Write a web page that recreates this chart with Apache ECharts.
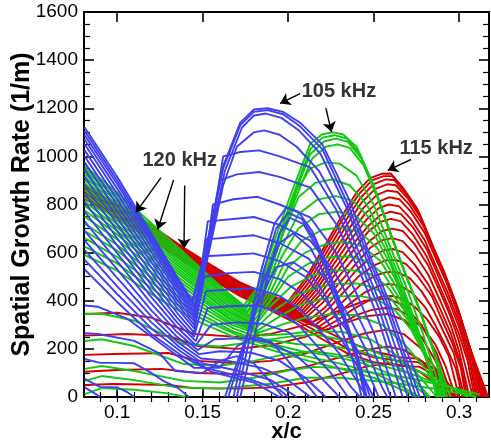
<!DOCTYPE html>
<html><head><meta charset="utf-8">
<script src="https://cdn.jsdelivr.net/npm/echarts@6/dist/echarts.min.js"></script>
<style>html,body{margin:0;padding:0;background:#fff}#c{width:491px;height:444px}</style>
</head><body><div id="c"></div>
<script>
// ---------------- DATA ----------------
const xMajorTicks = [0.1, 0.15, 0.2, 0.25, 0.3];
const xMinorTicks = [0.09,0.1,0.11,0.12,0.13,0.14,0.15,0.16,0.17,0.18,0.19,0.2,0.21,0.22,0.23,0.24,0.25,0.26,0.27,0.28,0.29,0.3,0.31];

// red family: narrow band from the left, valley ~0.2-0.22, peak ~0.255 (115 kHz)
const redMain = [
 [[0.081,880],[0.1,800],[0.12,712],[0.139,620],[0.155,548],[0.172,476],[0.188,425],[0.2,398],[0.21,490],[0.22,610],[0.23,735],[0.24,850],[0.248,910],[0.255,928],[0.26,929],[0.267,871],[0.275,788],[0.2826,662],[0.288,567],[0.296,412],[0.306,210],[0.317,0]],
 [[0.081,877],[0.1,797],[0.12,709],[0.139,617],[0.155,545],[0.172,473],[0.188,422],[0.201,393],[0.211,485],[0.221,605],[0.231,728],[0.241,840],[0.249,900],[0.256,918],[0.261,918],[0.268,860],[0.276,775],[0.283,650],[0.289,555],[0.297,400],[0.306,200],[0.316,0]],
 [[0.081,874],[0.1,794],[0.12,706],[0.139,614],[0.155,542],[0.172,470],[0.188,419],[0.202,386],[0.212,475],[0.222,595],[0.232,715],[0.242,825],[0.25,885],[0.257,904],[0.262,902],[0.269,845],[0.277,760],[0.284,636],[0.29,540],[0.298,390],[0.307,190],[0.315,0]],
 [[0.081,871],[0.1,791],[0.12,703],[0.139,611],[0.155,539],[0.172,467],[0.188,416],[0.203,380],[0.213,465],[0.223,585],[0.233,700],[0.243,808],[0.251,865],[0.258,884],[0.263,880],[0.27,825],[0.278,740],[0.285,620],[0.291,525],[0.299,375],[0.307,190],[0.314,0]],
 [[0.081,868],[0.1,788],[0.12,700],[0.139,608],[0.155,536],[0.172,464],[0.188,413],[0.204,373],[0.214,455],[0.224,570],[0.234,682],[0.244,786],[0.252,840],[0.258,858],[0.264,852],[0.271,798],[0.279,712],[0.286,596],[0.292,500],[0.3,352],[0.307,190],[0.313,0]],
 [[0.081,865],[0.1,785],[0.12,697],[0.139,605],[0.155,533],[0.172,461],[0.188,410],[0.205,366],[0.215,448],[0.225,558],[0.235,665],[0.245,762],[0.253,812],[0.259,830],[0.265,822],[0.272,768],[0.28,680],[0.287,565],[0.293,470],[0.3,340],[0.307,170],[0.312,0]],
 [[0.081,862],[0.1,782],[0.12,694],[0.139,602],[0.155,530],[0.172,458],[0.188,407],[0.206,358],[0.216,440],[0.226,545],[0.236,648],[0.246,738],[0.253,785],[0.259,800],[0.265,792],[0.272,738],[0.28,650],[0.287,535],[0.293,440],[0.3,310],[0.306,170],[0.311,0]],
 [[0.081,859],[0.1,779],[0.12,691],[0.139,599],[0.155,527],[0.172,455],[0.188,404],[0.207,350],[0.217,430],[0.227,530],[0.237,628],[0.247,712],[0.254,756],[0.26,770],[0.266,760],[0.273,705],[0.281,615],[0.288,500],[0.294,400],[0.3,290],[0.306,150],[0.31,0]],
 [[0.081,856],[0.1,776],[0.12,688],[0.139,596],[0.155,524],[0.172,452],[0.188,401],[0.208,343],[0.218,420],[0.228,515],[0.238,608],[0.247,688],[0.254,728],[0.26,740],[0.266,730],[0.273,675],[0.281,585],[0.288,470],[0.294,370],[0.3,260],[0.305,150],[0.309,0]],
 [[0.081,853],[0.1,773],[0.12,685],[0.139,593],[0.155,521],[0.172,449],[0.188,398],[0.209,336],[0.219,405],[0.229,495],[0.239,582],[0.248,650],[0.255,690],[0.261,700],[0.267,690],[0.274,635],[0.282,545],[0.289,435],[0.295,335],[0.3,230],[0.304,120],[0.308,0]],
 [[0.081,850],[0.1,770],[0.12,682],[0.139,590],[0.155,518],[0.172,446],[0.188,395],[0.21,328],[0.22,390],[0.23,474],[0.24,556],[0.248,620],[0.255,652],[0.261,660],[0.267,648],[0.274,595],[0.282,508],[0.289,400],[0.295,300],[0.3,190],[0.306,0]],
 [[0.081,847],[0.1,767],[0.12,679],[0.139,587],[0.155,515],[0.172,443],[0.188,392],[0.212,318],[0.222,375],[0.231,452],[0.24,528],[0.249,584],[0.256,610],[0.261,615],[0.267,602],[0.274,550],[0.282,468],[0.289,365],[0.295,268],[0.3,160],[0.305,0]],
 [[0.081,844],[0.1,764],[0.12,676],[0.139,584],[0.155,512],[0.172,440],[0.188,389],[0.214,308],[0.223,362],[0.232,432],[0.241,500],[0.25,546],[0.257,568],[0.263,570],[0.269,552],[0.276,500],[0.284,420],[0.29,320],[0.296,225],[0.301,120],[0.304,0]],
 [[0.081,841],[0.1,761],[0.12,673],[0.139,581],[0.155,509],[0.172,437],[0.188,386],[0.216,300],[0.225,348],[0.234,410],[0.243,470],[0.251,505],[0.258,520],[0.264,518],[0.271,495],[0.278,440],[0.285,360],[0.291,270],[0.297,180],[0.303,0]],
 [[0.081,838],[0.1,758],[0.12,670],[0.139,578],[0.155,506],[0.172,434],[0.188,383],[0.218,292],[0.227,335],[0.236,388],[0.245,435],[0.253,462],[0.259,470],[0.266,462],[0.273,430],[0.28,375],[0.286,300],[0.292,215],[0.298,120],[0.302,0]],
 [[0.081,835],[0.1,755],[0.12,667],[0.139,575],[0.155,503],[0.172,431],[0.188,380],[0.22,284],[0.229,320],[0.238,365],[0.247,400],[0.255,418],[0.261,420],[0.267,408],[0.274,375],[0.281,325],[0.288,255],[0.294,170],[0.3,0]],
 [[0.081,832],[0.1,752],[0.12,664],[0.139,572],[0.155,500],[0.172,428],[0.188,377],[0.222,276],[0.231,305],[0.24,340],[0.249,362],[0.257,370],[0.264,365],[0.271,335],[0.279,285],[0.286,220],[0.292,130],[0.298,0]],
 [[0.081,829],[0.1,749],[0.12,661],[0.139,569],[0.155,497],[0.172,425],[0.188,374],[0.205,330],[0.22,280],[0.235,230],[0.25,190],[0.265,165],[0.275,160],[0.283,130],[0.292,70],[0.3,0]],
 [[0.081,826],[0.1,746],[0.12,658],[0.139,566],[0.155,494],[0.172,422],[0.188,370],[0.205,318],[0.22,260],[0.235,200],[0.25,165],[0.265,150],[0.276,145],[0.286,100],[0.298,0]],
 [[0.081,823],[0.1,743],[0.12,655],[0.139,563],[0.155,491],[0.172,419],[0.188,366],[0.205,305],[0.22,240],[0.235,180],[0.25,145],[0.265,130],[0.277,125],[0.288,80],[0.297,0]]
];
const redLow = [
 [[0.081,345],[0.1,350],[0.12,330],[0.145,262],[0.17,250],[0.19,262],[0.21,300],[0.23,360],[0.245,400],[0.258,410],[0.268,380],[0.278,300],[0.287,180],[0.296,0]],
 [[0.081,255],[0.106,262],[0.13,254],[0.147,212],[0.17,200],[0.19,215],[0.21,250],[0.23,300],[0.245,335],[0.258,345],[0.268,320],[0.278,250],[0.287,140],[0.294,0]],
 [[0.081,175],[0.098,179],[0.13,183],[0.147,150],[0.17,140],[0.19,150],[0.21,180],[0.23,230],[0.245,265],[0.258,280],[0.268,260],[0.278,200],[0.287,110],[0.293,0]],
 [[0.081,105],[0.1,112],[0.126,117],[0.147,100],[0.17,95],[0.19,100],[0.21,125],[0.23,165],[0.245,195],[0.258,210],[0.268,195],[0.278,150],[0.287,80],[0.292,0]],
 [[0.081,50],[0.098,54],[0.13,50],[0.145,37],[0.17,35],[0.19,40],[0.21,60],[0.23,95],[0.245,125],[0.258,140],[0.268,130],[0.278,100],[0.287,50],[0.291,0]]
];

// green family: valley ~0.175, peak ~0.226 (105 kHz)
const greenMain = [
 [[0.081,960],[0.1,850],[0.124,696],[0.145,560],[0.162,450],[0.174,380],[0.182,454],[0.192,650],[0.202,850],[0.213,1054],[0.22,1092],[0.226,1100],[0.232,1092],[0.24,1040],[0.25,880],[0.259,692],[0.267,540],[0.275,400],[0.285,200],[0.295,0]],
 [[0.081,950],[0.1,838],[0.124,684],[0.145,550],[0.162,442],[0.175,372],[0.183,450],[0.193,640],[0.203,840],[0.213,1030],[0.22,1078],[0.227,1088],[0.234,1075],[0.242,1010],[0.251,860],[0.26,676],[0.268,520],[0.276,380],[0.285,190],[0.293,0]],
 [[0.081,940],[0.1,825],[0.124,672],[0.145,540],[0.162,433],[0.175,364],[0.183,440],[0.193,630],[0.203,830],[0.213,1010],[0.221,1062],[0.228,1074],[0.235,1060],[0.243,990],[0.252,840],[0.261,660],[0.269,505],[0.277,360],[0.286,170],[0.292,0]],
 [[0.081,928],[0.1,812],[0.124,660],[0.145,530],[0.163,422],[0.176,356],[0.184,430],[0.194,620],[0.204,820],[0.214,990],[0.222,1040],[0.229,1050],[0.236,1035],[0.244,965],[0.253,815],[0.262,640],[0.27,485],[0.278,340],[0.286,170],[0.291,0]],
 [[0.081,915],[0.1,798],[0.124,648],[0.145,520],[0.163,412],[0.176,348],[0.185,440],[0.195,640],[0.205,860],[0.213,950],[0.222,975],[0.23,970],[0.24,920],[0.25,800],[0.26,620],[0.27,440],[0.279,260],[0.286,100],[0.29,0]],
 [[0.081,902],[0.1,785],[0.124,636],[0.145,510],[0.163,402],[0.177,340],[0.186,450],[0.196,660],[0.206,830],[0.216,890],[0.226,905],[0.236,880],[0.246,800],[0.256,660],[0.266,480],[0.275,300],[0.283,130],[0.288,0]],
 [[0.081,888],[0.1,772],[0.124,624],[0.145,500],[0.163,392],[0.177,332],[0.186,430],[0.196,620],[0.206,760],[0.217,820],[0.228,835],[0.238,815],[0.248,740],[0.258,600],[0.268,420],[0.277,240],[0.284,90],[0.287,0]],
 [[0.081,875],[0.1,758],[0.124,612],[0.145,490],[0.164,382],[0.178,324],[0.187,420],[0.196,580],[0.206,700],[0.218,760],[0.229,770],[0.24,750],[0.25,680],[0.26,550],[0.27,380],[0.278,220],[0.285,60],[0.287,0]],
 [[0.081,860],[0.1,745],[0.124,600],[0.145,480],[0.164,372],[0.178,316],[0.188,410],[0.198,560],[0.208,650],[0.22,695],[0.231,705],[0.242,685],[0.252,620],[0.262,500],[0.272,340],[0.28,190],[0.286,40],[0.288,0]],
 [[0.081,845],[0.1,732],[0.124,588],[0.145,470],[0.164,362],[0.179,308],[0.189,400],[0.2,540],[0.21,600],[0.222,635],[0.233,645],[0.244,625],[0.254,565],[0.264,450],[0.273,310],[0.281,160],[0.286,40],[0.288,0]],
 [[0.081,830],[0.1,718],[0.124,576],[0.145,460],[0.165,352],[0.18,300],[0.19,400],[0.2,500],[0.212,555],[0.224,580],[0.235,585],[0.246,565],[0.256,510],[0.266,400],[0.275,270],[0.283,120],[0.288,0]],
 [[0.081,812],[0.1,704],[0.124,562],[0.145,448],[0.165,342],[0.18,292],[0.19,380],[0.202,460],[0.214,505],[0.226,525],[0.237,528],[0.248,510],[0.258,460],[0.268,360],[0.277,230],[0.284,100],[0.288,0]],
 [[0.081,795],[0.1,690],[0.124,548],[0.145,436],[0.165,332],[0.181,284],[0.192,360],[0.204,420],[0.216,455],[0.228,470],[0.24,472],[0.25,455],[0.26,410],[0.27,320],[0.279,200],[0.286,60],[0.289,0]],
 [[0.081,775],[0.1,675],[0.124,534],[0.145,424],[0.166,322],[0.182,276],[0.194,330],[0.206,380],[0.218,405],[0.23,418],[0.242,420],[0.252,405],[0.262,365],[0.272,280],[0.28,170],[0.287,40],[0.289,0]],
 [[0.081,750],[0.1,655],[0.124,515],[0.145,410],[0.166,312],[0.183,268],[0.196,300],[0.21,330],[0.225,345],[0.24,340],[0.255,300],[0.268,220],[0.28,120],[0.29,0]],
 [[0.081,720],[0.1,632],[0.124,495],[0.145,392],[0.167,300],[0.185,255],[0.2,262],[0.215,275],[0.232,270],[0.248,240],[0.262,180],[0.275,100],[0.287,0]],
 [[0.081,690],[0.1,608],[0.124,475],[0.145,375],[0.168,285],[0.186,240],[0.205,220],[0.222,215],[0.24,195],[0.255,160],[0.27,100],[0.283,0]],
 [[0.081,660],[0.1,582],[0.124,455],[0.145,358],[0.168,272],[0.188,225],[0.208,190],[0.226,170],[0.244,140],[0.26,95],[0.275,40],[0.282,0]],
 [[0.081,625],[0.1,555],[0.124,432],[0.145,340],[0.17,258],[0.19,210],[0.21,170],[0.23,140],[0.25,100],[0.265,50],[0.277,0]],
 [[0.081,590],[0.1,525],[0.124,410],[0.145,322],[0.17,244],[0.19,196],[0.212,150],[0.232,115],[0.25,80],[0.27,20],[0.275,0]]
];
const greenLow = [
 [[0.081,345],[0.092,345],[0.11,317],[0.139,220],[0.16,210],[0.18,230],[0.2,250],[0.215,260],[0.23,240],[0.25,190],[0.27,130],[0.29,60],[0.305,0]],
 [[0.081,233],[0.091,240],[0.11,212],[0.139,137],[0.16,130],[0.18,150],[0.2,180],[0.215,190],[0.23,175],[0.25,140],[0.27,100],[0.29,50],[0.31,0]],
 [[0.081,117],[0.091,129],[0.11,108],[0.139,67],[0.16,60],[0.18,80],[0.2,110],[0.215,125],[0.23,120],[0.25,100],[0.27,80],[0.29,50],[0.312,10]],
 [[0.081,67],[0.091,87],[0.11,70],[0.135,40],[0.16,35],[0.19,55],[0.21,80],[0.23,80],[0.26,60],[0.29,30],[0.31,0]],
 [[0.081,12],[0.091,37],[0.11,30],[0.13,15],[0.14,0]]
];

// blue family: valley ~0.145, peak ~0.187 (105 kHz), second hump ~0.2
const blueMain = [
 [[0.081,1120],[0.1,915],[0.12,680],[0.135,500],[0.144,400],[0.152,620],[0.162,960],[0.172,1140],[0.18,1195],[0.188,1200],[0.197,1185],[0.207,1140],[0.22,1050],[0.236,816],[0.249,566],[0.259,400],[0.27,180],[0.28,0]],
 [[0.081,1105],[0.1,900],[0.12,668],[0.135,490],[0.144,392],[0.152,610],[0.162,950],[0.172,1130],[0.18,1185],[0.188,1192],[0.197,1175],[0.207,1125],[0.22,1030],[0.235,800],[0.248,560],[0.258,390],[0.268,180],[0.277,0]],
 [[0.081,1088],[0.1,885],[0.12,655],[0.135,478],[0.145,380],[0.153,610],[0.163,940],[0.173,1120],[0.18,1170],[0.187,1178],[0.196,1160],[0.206,1110],[0.219,1010],[0.234,790],[0.247,550],[0.257,380],[0.267,170],[0.275,0]],
 [[0.081,1070],[0.1,866],[0.12,640],[0.135,465],[0.145,368],[0.153,580],[0.162,880],[0.17,1040],[0.18,1100],[0.186,1108],[0.195,1090],[0.205,1040],[0.218,940],[0.232,760],[0.245,540],[0.255,370],[0.265,160],[0.273,0]],
 [[0.081,1050],[0.1,845],[0.12,622],[0.135,452],[0.145,355],[0.153,600],[0.162,1000],[0.172,1018],[0.183,1025],[0.195,1000],[0.213,954],[0.228,780],[0.242,560],[0.253,370],[0.262,170],[0.27,0]],
 [[0.081,1025],[0.1,822],[0.12,602],[0.135,438],[0.145,342],[0.152,560],[0.16,900],[0.17,925],[0.183,935],[0.195,915],[0.213,870],[0.228,720],[0.242,520],[0.252,340],[0.26,160],[0.267,0]],
 [[0.081,1000],[0.1,798],[0.12,580],[0.135,420],[0.145,330],[0.151,520],[0.156,800],[0.168,822],[0.182,832],[0.195,800],[0.213,746],[0.228,600],[0.24,430],[0.25,270],[0.258,110],[0.263,0]],
 [[0.081,975],[0.1,772],[0.12,560],[0.135,405],[0.145,315],[0.153,730],[0.168,740],[0.18,748],[0.195,715],[0.213,650],[0.227,520],[0.238,380],[0.248,230],[0.256,80],[0.26,0]],
 [[0.081,945],[0.1,745],[0.12,538],[0.135,388],[0.145,300],[0.152,655],[0.168,665],[0.18,672],[0.195,640],[0.212,575],[0.225,460],[0.236,330],[0.246,190],[0.255,40],[0.258,0]],
 [[0.081,915],[0.1,718],[0.12,515],[0.135,370],[0.145,285],[0.151,585],[0.165,590],[0.18,597],[0.195,565],[0.21,500],[0.222,400],[0.234,280],[0.244,150],[0.253,0]],
 [[0.081,880],[0.1,690],[0.12,490],[0.135,350],[0.145,268],[0.151,500],[0.165,515],[0.18,520],[0.195,490],[0.208,430],[0.22,340],[0.232,230],[0.242,110],[0.25,0]],
 [[0.081,845],[0.1,660],[0.12,465],[0.135,330],[0.145,250],[0.152,440],[0.168,448],[0.18,452],[0.195,420],[0.207,365],[0.218,280],[0.23,180],[0.24,70],[0.246,0]],
 [[0.081,810],[0.1,630],[0.12,440],[0.135,310],[0.146,232],[0.153,370],[0.168,378],[0.182,380],[0.196,350],[0.206,300],[0.216,220],[0.228,130],[0.237,40],[0.242,0]],
 [[0.081,770],[0.1,598],[0.12,415],[0.135,290],[0.146,215],[0.155,300],[0.17,310],[0.185,305],[0.2,270],[0.212,200],[0.225,100],[0.235,0]],
 [[0.081,730],[0.1,565],[0.12,388],[0.135,270],[0.147,195],[0.157,240],[0.175,245],[0.19,225],[0.205,170],[0.218,90],[0.23,0]],
 [[0.081,690],[0.1,530],[0.12,360],[0.135,250],[0.148,178],[0.16,190],[0.178,185],[0.195,150],[0.21,80],[0.222,0]],
 [[0.081,650],[0.1,495],[0.12,335],[0.135,230],[0.149,160],[0.165,150],[0.185,120],[0.2,70],[0.213,0]],
 [[0.081,610],[0.1,460],[0.12,310],[0.136,210],[0.15,140],[0.17,110],[0.19,70],[0.205,0]],
 [[0.081,570],[0.1,428],[0.12,285],[0.137,190],[0.152,120],[0.175,80],[0.195,30],[0.2,0]],
 [[0.081,530],[0.1,395],[0.12,262],[0.138,170],[0.155,105],[0.18,60],[0.195,0]]
];
const blueSecond = [
 [[0.168,0],[0.176,250],[0.184,520],[0.192,720],[0.199,788],[0.206,770],[0.214,690],[0.222,560],[0.23,400],[0.238,220],[0.246,40],[0.248,0]],
 [[0.17,0],[0.178,260],[0.186,530],[0.193,700],[0.2,765],[0.208,740],[0.216,650],[0.224,520],[0.232,360],[0.24,190],[0.246,0]],
 [[0.172,0],[0.18,240],[0.188,500],[0.195,680],[0.201,745],[0.209,718],[0.217,620],[0.225,480],[0.233,320],[0.241,140],[0.245,0]],
 [[0.165,0],[0.175,230],[0.185,470],[0.195,640],[0.203,680],[0.213,620],[0.222,500],[0.232,330],[0.24,160],[0.245,0]],
 [[0.163,0],[0.173,200],[0.183,400],[0.193,540],[0.203,560],[0.213,512],[0.222,420],[0.23,300],[0.238,150],[0.243,0]]
];
const blueLow = [
 [[0.081,380],[0.089,375],[0.106,325],[0.129,204],[0.145,121],[0.16,121],[0.17,210],[0.18,250],[0.19,230],[0.2,150],[0.21,60],[0.217,0]],
 [[0.081,265],[0.089,262],[0.11,233],[0.125,180],[0.134,108],[0.15,100],[0.16,150],[0.17,170],[0.18,140],[0.19,60],[0.197,0]],
 [[0.081,158],[0.09,142],[0.1,142],[0.11,140],[0.12,100],[0.127,67],[0.135,40],[0.142,0]],
 [[0.081,75],[0.09,42],[0.1,40],[0.106,20],[0.11,0]],
 [[0.081,40],[0.088,10],[0.09,0]]
];

// annotations (data coordinates)
const labelTexts = ['120 kHz', '105 kHz', '115 kHz'];
const labelPos = [[0.1366, 983], [0.2297, 1271], [0.2866, 1033]];
const arrowFrom = [[0.1256, 912], [0.1330, 902], [0.1395, 879], [0.2070, 1261], [0.2221, 1200], [0.2719, 987]];
const arrowTo   = [[0.1110, 767], [0.1237, 696], [0.1391, 617], [0.1953, 1220], [0.2254, 1101], [0.2583, 942]];

// ---------------- CHART ----------------
const RED = '#d40000', GREEN = '#12c812', BLUE = '#4040f2';
const FONT = 'Liberation Sans, Arial, Helvetica, sans-serif';
const series = [];
function addCurves(curves, color) {
  curves.forEach(c => series.push({
    type: 'line', data: c, symbol: 'none', showSymbol: false, silent: true,
    lineStyle: { color: color, width: 1.9 }, itemStyle: { color: color }, animation: false
  }));
}
addCurves(redMain, RED); addCurves(redLow, RED);
addCurves(greenMain, GREEN); addCurves(greenLow, GREEN);
addCurves(blueMain, BLUE); addCurves(blueSecond, BLUE); addCurves(blueLow, BLUE);

series.push({
  type: 'lines', coordinateSystem: 'cartesian2d', silent: true, animation: false, z: 10,
  symbol: ['none', 'arrow'], symbolSize: [5, 10],
  lineStyle: { color: '#000', width: 1.4, opacity: 1 },
  data: arrowFrom.map((f, i) => ({ coords: [f, arrowTo[i]] }))
});
series.push({
  type: 'scatter', silent: true, animation: false, z: 11, symbolSize: 1,
  itemStyle: { color: 'rgba(0,0,0,0)' },
  data: labelPos.map((p, i) => [p[0], p[1], labelTexts[i]]),
  label: { show: true, position: 'inside', formatter: p => p.data[2],
    color: '#000', fontFamily: FONT, fontWeight: 'bold', fontSize: 20 }
});

const XMIN = 0.0806, XMAX = 0.3175;
const axLine = { show: true, onZero: false, lineStyle: { color: '#000', width: 2 } };
const fmtX = v => String(parseFloat(Number(v).toFixed(2)));

const chart = echarts.init(document.getElementById('c'), null, { renderer: 'canvas' });
chart.setOption({
  animation: false,
  backgroundColor: '#fff',
  grid: { left: 84, right: 2, top: 12, bottom: 47, containLabel: false, outerBoundsMode: 'none' },
  xAxis: [
    { type: 'value', min: XMIN, max: XMAX, position: 'bottom',
      name: 'x/c', nameLocation: 'middle', nameGap: 24, nameMoveOverlap: false,
      nameTextStyle: { fontFamily: FONT, fontWeight: 'bold', fontSize: 22, color: '#000', verticalAlign: 'top' },
      axisLine: axLine, splitLine: { show: false },
      axisTick: { show: true, inside: true, length: 10, customValues: xMajorTicks, lineStyle: { color: '#000', width: 1.6 } },
      axisLabel: { show: true, customValues: xMajorTicks, formatter: fmtX, margin: 6,
        fontFamily: FONT, fontSize: 19, color: '#000' } },
    { type: 'value', min: XMIN, max: XMAX, position: 'bottom', gridIndex: 0,
      axisLine: { show: false }, splitLine: { show: false }, axisLabel: { show: false },
      axisTick: { show: true, inside: true, length: 5, customValues: xMinorTicks, lineStyle: { color: '#000', width: 1.2 } } },
    { type: 'value', min: XMIN, max: XMAX, position: 'top',
      axisLine: axLine, splitLine: { show: false }, axisLabel: { show: false },
      axisTick: { show: true, inside: true, length: 10, customValues: xMajorTicks, lineStyle: { color: '#000', width: 1.6 } } },
    { type: 'value', min: XMIN, max: XMAX, position: 'top',
      axisLine: { show: false }, splitLine: { show: false }, axisLabel: { show: false },
      axisTick: { show: true, inside: true, length: 5, customValues: xMinorTicks, lineStyle: { color: '#000', width: 1.2 } } }
  ],
  yAxis: [
    { type: 'value', min: 0, max: 1600, interval: 200, position: 'left',
      name: 'Spatial Growth Rate (1/m)', nameLocation: 'middle', nameGap: 49, nameRotate: 90, nameMoveOverlap: false,
      nameTextStyle: { fontFamily: FONT, fontWeight: 'bold', fontSize: 25, color: '#000', verticalAlign: 'bottom' },
      axisLine: axLine, splitLine: { show: false },
      axisTick: { show: true, inside: true, length: 10, lineStyle: { color: '#000', width: 1.6 } },
      minorTick: { show: true, splitNumber: 4, length: 6, lineStyle: { color: '#000', width: 1.2 } },
      axisLabel: { margin: 6, formatter: v => String(v), fontFamily: FONT, fontSize: 19, color: '#000' } },
    { type: 'value', min: 0, max: 1600, interval: 200, position: 'right',
      axisLine: axLine, splitLine: { show: false }, axisLabel: { show: false },
      axisTick: { show: true, inside: true, length: 10, lineStyle: { color: '#000', width: 1.6 } },
      minorTick: { show: true, splitNumber: 4, length: 6, lineStyle: { color: '#000', width: 1.2 } } }
  ],
  series: series
});
</script></body></html>
